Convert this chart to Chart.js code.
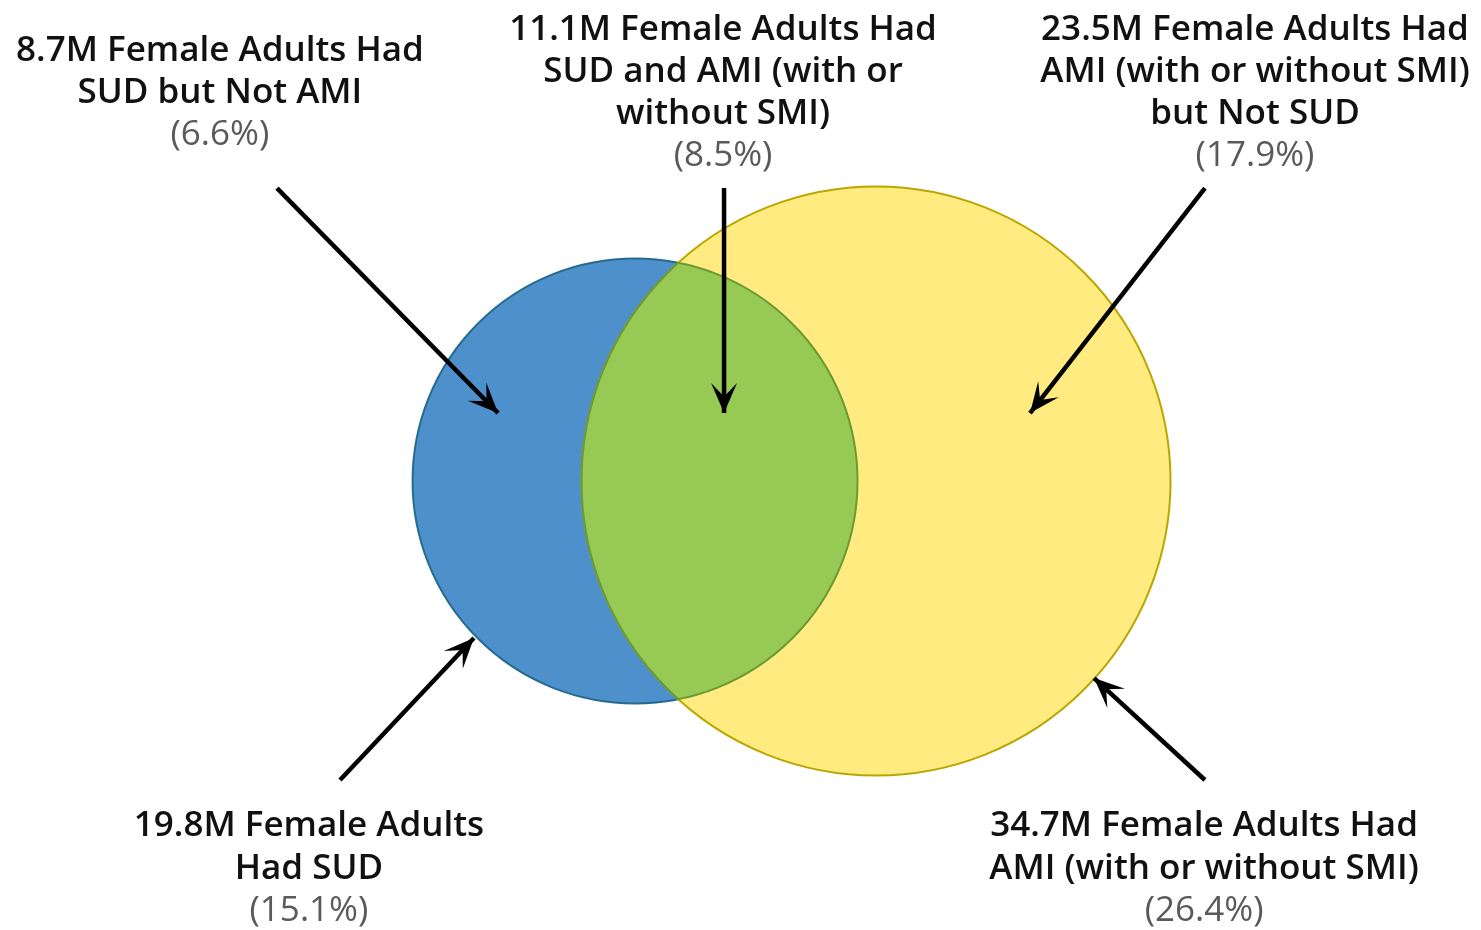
<!DOCTYPE html>
<html>
<head>
<meta charset="utf-8">
<script src="https://cdn.jsdelivr.net/npm/chart.js@4"></script>
<style>
html,body{margin:0;padding:0;background:#fff;}
#wrap{width:1481px;height:930px;position:relative;}
</style>
</head>
<body>
<div id="wrap"><canvas id="c"></canvas></div>
<script>
// values
const regions=['SUD but Not AMI','SUD and AMI','AMI but Not SUD','SUD','AMI'];
const millions=[8.7,11.1,23.5,19.8,34.7];
const percents=[6.6,8.5,17.9,15.1,26.4];
const labelText=[
  ['Female Adults Had','SUD but Not AMI'],
  ['Female Adults Had','SUD and AMI (with or','without SMI)'],
  ['Female Adults Had','AMI (with or without SMI)','but Not SUD'],
  ['Female Adults','Had SUD'],
  ['Female Adults Had','AMI (with or without SMI)']
];

// circles: one per set total (index into millions), area ~ value
const circleSets=[3,4];
const circleX=[42.88,59.15];
const circleY=[30.32,30.32];
const R_PER_SQRT=3.376;

// label anchors, chart units (first line)
const labelX=[14.85,48.82,84.74,20.86,81.30];
const labelY=[59.38,60.80,60.80,7.0,7.0];

// arrows, tail -> head, chart units
const arrowFrom=[[18.70,50.10],[48.89,50.10],[81.36,50.10],[22.96,10.13],[81.36,10.13]];
const arrowTo=[[33.63,34.91],[48.89,34.91],[69.55,34.91],[32.00,19.72],[73.87,17.01]];

const BLUE='#4d90cc', BLUE_EDGE='#266b8f';
const YELLOW='#ffeb80', YELLOW_EDGE='#bba600';
const GREEN='#97c955', GREEN_EDGE='#6b9a30';

function circlesPx(chart){
  const xs=chart.scales.x, ys=chart.scales.y;
  return circleX.map((cx,i)=>{
    const r=R_PER_SQRT*Math.sqrt(millions[circleSets[i]]);
    return {x:xs.getPixelForValue(cx),y:ys.getPixelForValue(circleY[i]),
      r:xs.getPixelForValue(cx+r)-xs.getPixelForValue(cx)};
  });
}

const vennPlugin={
  id:'venn',
  beforeDatasetsDraw(chart){
    const ctx=chart.ctx, c=circlesPx(chart);
    const ring=(p)=>{ctx.beginPath();ctx.arc(p.x,p.y,p.r,0,Math.PI*2);};
    ctx.save();
    ctx.lineWidth=2;
    ring(c[0]); ctx.fillStyle=BLUE; ctx.fill(); ctx.strokeStyle=BLUE_EDGE; ctx.stroke();
    ring(c[1]); ctx.fillStyle=YELLOW; ctx.fill(); ctx.strokeStyle=YELLOW_EDGE; ctx.stroke();
    ctx.restore();
    // overlap lens
    ctx.save();
    ring(c[0]); ctx.clip();
    ring(c[1]); ctx.fillStyle=GREEN; ctx.fill();
    ctx.lineWidth=2; ctx.strokeStyle=GREEN_EDGE; ctx.stroke();
    ctx.restore();
    ctx.save();
    ring(c[1]); ctx.clip();
    ring(c[0]); ctx.lineWidth=2; ctx.strokeStyle=GREEN_EDGE; ctx.stroke();
    ctx.restore();
  },
  afterDatasetsDraw(chart){
    const ctx=chart.ctx;
    chart.data.datasets.forEach((ds,i)=>{
      const pts=chart.getDatasetMeta(i).data;
      const a=pts[0], b=pts[1];
      const ang=Math.atan2(b.y-a.y,b.x-a.x);
      const ux=Math.cos(ang), uy=Math.sin(ang), nx=-uy, ny=ux;
      const L=30, W=13;
      ctx.save();
      ctx.fillStyle='#000';
      ctx.beginPath();
      ctx.moveTo(b.x,b.y);
      ctx.lineTo(b.x-L*ux+W*nx,b.y-L*uy+W*ny);
      ctx.lineTo(b.x-0.55*L*ux,b.y-0.55*L*uy);
      ctx.lineTo(b.x-L*ux-W*nx,b.y-L*uy-W*ny);
      ctx.closePath();
      ctx.fill();
      ctx.restore();
    });
  },
  afterDraw(chart){
    const ctx=chart.ctx, xs=chart.scales.x, ys=chart.scales.y;
    ctx.save();
    ctx.textAlign='center';
    ctx.textBaseline='middle';
    labelText.forEach((lines,i)=>{
      const x=xs.getPixelForValue(labelX[i]);
      let y=ys.getPixelForValue(labelY[i]);
      const all=[millions[i]+'M '+lines[0]].concat(lines.slice(1));
      ctx.font='600 35px "Open Sans"';
      ctx.fillStyle='#111';
      all.forEach(t=>{ctx.fillText(t,x,y); y+=42.3;});
      ctx.font='400 35px "Open Sans"';
      ctx.fillStyle='#5a5a5a';
      ctx.fillText('('+percents[i].toFixed(1)+'%)',x,y);
    });
    ctx.restore();
  }
};

const datasets=arrowFrom.map((f,i)=>({
  label:regions[i],
  data:[{x:f[0],y:f[1]},{x:arrowTo[i][0],y:arrowTo[i][1]}],
  showLine:true,borderColor:'#000',borderWidth:4.5,pointRadius:0,fill:false,tension:0,clip:false
}));

new Chart(document.getElementById('c'),{
  type:'scatter',
  data:{datasets},
  options:{
    responsive:true,
    maintainAspectRatio:false,
    animation:false,
    events:[],
    layout:{padding:0},
    scales:{
      x:{type:'linear',min:0,max:100,display:false},
      y:{type:'linear',min:0,max:62.8,display:false}
    },
    plugins:{legend:{display:false},tooltip:{enabled:false}}
  },
  plugins:[vennPlugin]
});
</script>
</body>
</html>
